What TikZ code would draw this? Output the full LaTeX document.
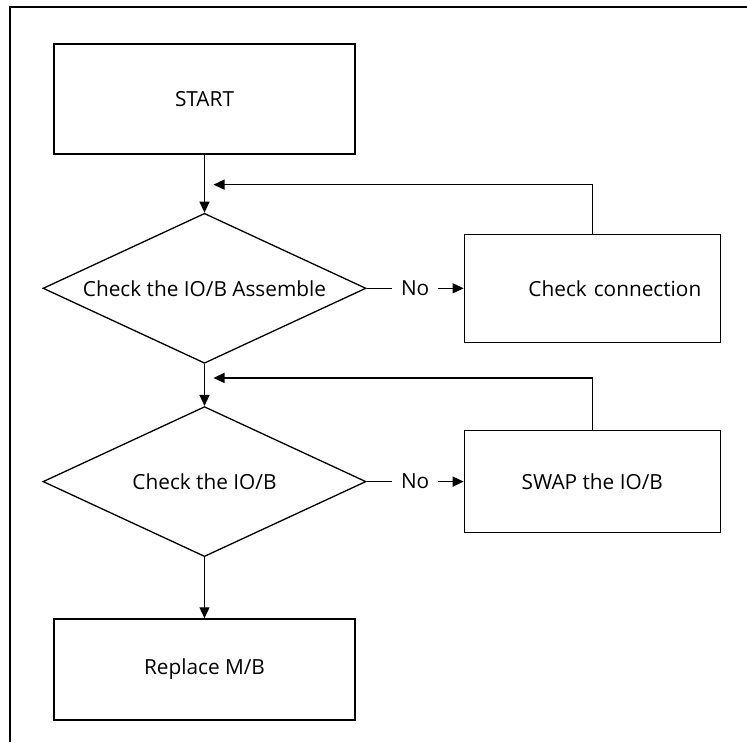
\documentclass[tikz,border=0pt]{standalone}
\usepackage{fontspec}
\setmainfont{Open Sans}
\usetikzlibrary{arrows.meta,positioning,shapes.geometric}

\begin{document}
\begin{tikzpicture}[x=0.5pt, y=-0.5pt, font=\fontsize{10.4}{12}\selectfont, >={Triangle[length=5.5pt,width=5pt]}, line width=0.65pt,
  blk/.style={draw, minimum width=#1, minimum height=54pt, inner sep=0pt, align=center},
  blk/.default=150.5pt,
  dec/.style={draw, diamond, aspect=2.15, minimum width=161.5pt, minimum height=75pt, inner sep=0pt}]
\useasboundingbox (0,0) rectangle (747,742);
% frame (top and left edges only)
\draw[line width=1.4pt] (10,742) -- (10,7) -- (747,7);
% main column
\node[blk, minimum height=55pt] (start) at (204.5,99) {START};
\node[dec, below=29pt of start] (asm) {Check the IO/B Assemble};
\node[dec, below=21pt of asm] (iob) {Check the IO/B};
\node[blk, minimum height=50.5pt, below=30.5pt of iob] (repl) {Replace M/B};
% side boxes
\node[blk=128pt, text width=109pt, align=right, right=48.5pt of asm] (conn) {Check connection};
\node[blk=128pt, minimum height=51pt, right=48.5pt of iob] (swap) {SWAP the IO/B};
\coordinate (j1) at ([xshift=4.5pt, yshift=-15pt]start.south);
\coordinate (j2) at ([xshift=4.5pt, yshift=-7pt]asm.south);
\draw[->] (start) -- (asm); \draw[->] (asm) -- (iob); \draw[->] (iob) -- (repl);
\draw[->] (asm) -- node[fill=white, inner xsep=4.5pt]{No} (conn);
\draw[->] (iob) -- node[fill=white, inner xsep=4.5pt]{No} (swap);
\draw[->] (conn.north) |- (j1);
\draw[->] (swap.north) |- (j2);
\end{tikzpicture}
\end{document}
